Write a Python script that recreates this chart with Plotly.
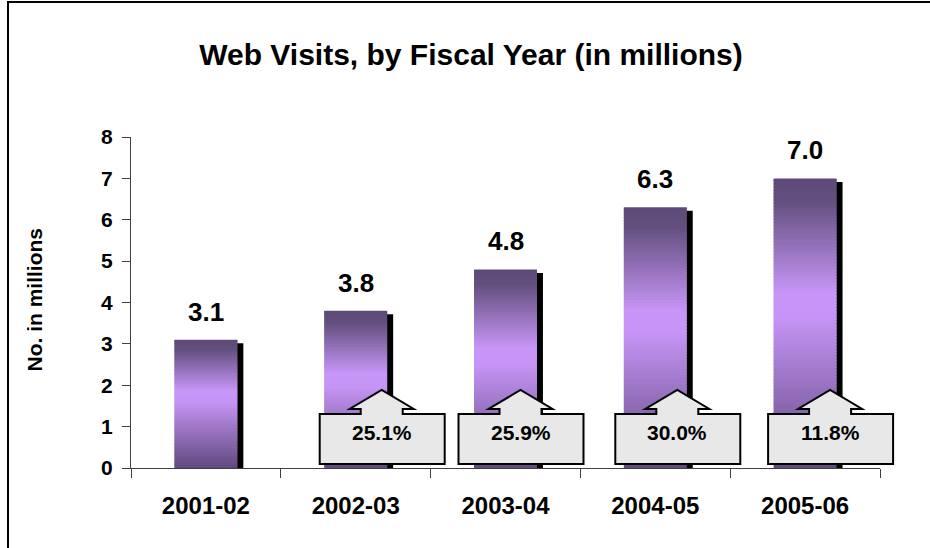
import numpy as np
import plotly.graph_objects as go

# ---- data -------------------------------------------------------------
years = ["2001-02", "2002-03", "2003-04", "2004-05", "2005-06"]
visits = [3.1, 3.8, 4.8, 6.3, 7.0]          # web visits, millions
growth = ["", "25.1%", "25.9%", "30.0%", "11.8%"]  # year-over-year growth
y_ticks = [0, 1, 2, 3, 4, 5, 6, 7, 8]

# ---- styling ----------------------------------------------------------
FONT = "Arial, 'Liberation Sans', Helvetica, sans-serif"
BAR_W = 0.42
N_SEG = 90
# vertical gradient of the bars: position measured from the top of a bar
GRAD_POS = [0.0, 0.08, 0.40, 0.48, 1.0]
GRAD_RGB = [(94, 74, 120), (100, 80, 128), (200, 150, 248),
            (198, 148, 246), (96, 74, 126)]
SHADOW_DX = 0.04      # shadow shift, category units
SHADOW_DY = 0.085     # shadow shift, value units
# horizontal shift (px) of each growth callout from its category centre
CALLOUT_DX = [0, 26, 15, 22, 25]
CAT_PX = 149.8        # width of one category in pixels

xs = np.arange(len(years))
n_cat = len(years)


def grad_color(t):
    r, g, b = (np.interp(t, GRAD_POS, [c[j] for c in GRAD_RGB]) for j in range(3))
    return f"rgb({r:.0f},{g:.0f},{b:.0f})"


# each bar is drawn as a stack of thin slices to give it a vertical gradient
seg_x, seg_base, seg_h, seg_col = [], [], [], []
for i, v in zip(xs, visits):
    for k in range(N_SEG):
        lo = v * k / N_SEG
        hi = min(v, v * (k + 1.7) / N_SEG)
        seg_x.append(i)
        seg_base.append(lo)
        seg_h.append(hi - lo)
        seg_col.append(grad_color(1 - (k + 0.5) / N_SEG))

fig = go.Figure()

# drop shadow behind each bar
fig.add_trace(go.Bar(
    x=xs + SHADOW_DX, y=visits, base=-SHADOW_DY, width=BAR_W,
    marker=dict(color="black", line=dict(width=0)), opacity=1,
    hoverinfo="skip", showlegend=False,
))

# gradient bars
fig.add_trace(go.Bar(
    x=seg_x, y=seg_h, base=seg_base, width=BAR_W,
    marker=dict(color=seg_col, line=dict(width=0)), opacity=1,
    hoverinfo="skip", showlegend=False,
))

annotations = []
# value labels above the bars
for i, v in zip(xs, visits):
    annotations.append(dict(
        x=i, y=v, xref="x", yref="y", text=f"{v:.1f}", showarrow=False,
        xanchor="center", yanchor="bottom", yshift=11,
        font=dict(family=FONT, size=26, color="black", weight="bold"),
    ))

shapes = []
# growth callouts: a box with an upward arrow, anchored at the axis
callout_path = ("M -62,4 L 63,4 L 63,54 L 21,54 L 21,59 L 32,59 L 0,78 "
                "L -32,59 L -21,59 L -21,54 L -62,54 Z")
for i, g in zip(xs, growth):
    if not g:
        continue
    # anchor in plot-fraction units so the callout is not clipped at the edge
    ax = (i + 0.5 + CALLOUT_DX[i] / CAT_PX) / n_cat
    shapes.append(dict(
        type="path", xref="paper", yref="paper", xsizemode="pixel", ysizemode="pixel",
        xanchor=ax, yanchor=0, path=callout_path,
        fillcolor="#E8E8E8", line=dict(color="black", width=2), layer="above",
    ))
    annotations.append(dict(
        x=ax, y=0, xref="paper", yref="paper", text=g, showarrow=False,
        xanchor="center", yanchor="middle", yshift=36,
        font=dict(family=FONT, size=21, color="black", weight="bold"),
    ))

# y axis title
annotations.append(dict(
    x=0, y=0.5, xref="paper", yref="paper", xshift=-97, yshift=3,
    text="No. in millions",
    textangle=-90, showarrow=False, xanchor="center", yanchor="middle",
    font=dict(family=FONT, size=21, color="black", weight="bold"),
))

# outer frame of the chart area
shapes.append(dict(
    type="rect", xref="paper", yref="paper", xsizemode="pixel", ysizemode="pixel",
    xanchor=0, yanchor=0, x0=-123, x1=820, y0=-100, y1=466,
    line=dict(color="black", width=2), fillcolor="rgba(0,0,0,0)", layer="below",
))

fig.update_layout(
    width=930, height=548,
    margin=dict(l=131, r=50, t=137, b=80),
    paper_bgcolor="white", plot_bgcolor="white",
    barmode="overlay",
    showlegend=False,
    title=dict(
        text="Web Visits, by Fiscal Year (in millions)",
        x=471 / 930, xanchor="center", xref="container",
        y=1 - 44 / 548, yanchor="top", yref="container",
        font=dict(family=FONT, size=30, color="black", weight="bold"),
    ),
    xaxis=dict(
        range=[-0.5, 4.5], tickvals=list(xs), ticktext=years,
        ticks="", showline=True, linecolor="#404040", linewidth=1,
        showgrid=False, zeroline=False,
        tickfont=dict(family=FONT, size=24, color="black", weight="bold"),
        ticklabelstandoff=16,
        minor=dict(tickvals=[k - 0.5 for k in range(n_cat + 1)],
                   ticks="outside", ticklen=9, tickcolor="#404040", tickwidth=1),
    ),
    yaxis=dict(
        range=[0, 8], tickvals=y_ticks, ticks="outside", ticklen=8,
        tickcolor="#404040", showline=True, linecolor="#404040", linewidth=1,
        showgrid=False, zeroline=False,
        tickfont=dict(family=FONT, size=21, color="black", weight="bold"),
        ticklabelstandoff=5,
    ),
    shapes=shapes,
    annotations=annotations,
)

fig.write_html("out.html")
